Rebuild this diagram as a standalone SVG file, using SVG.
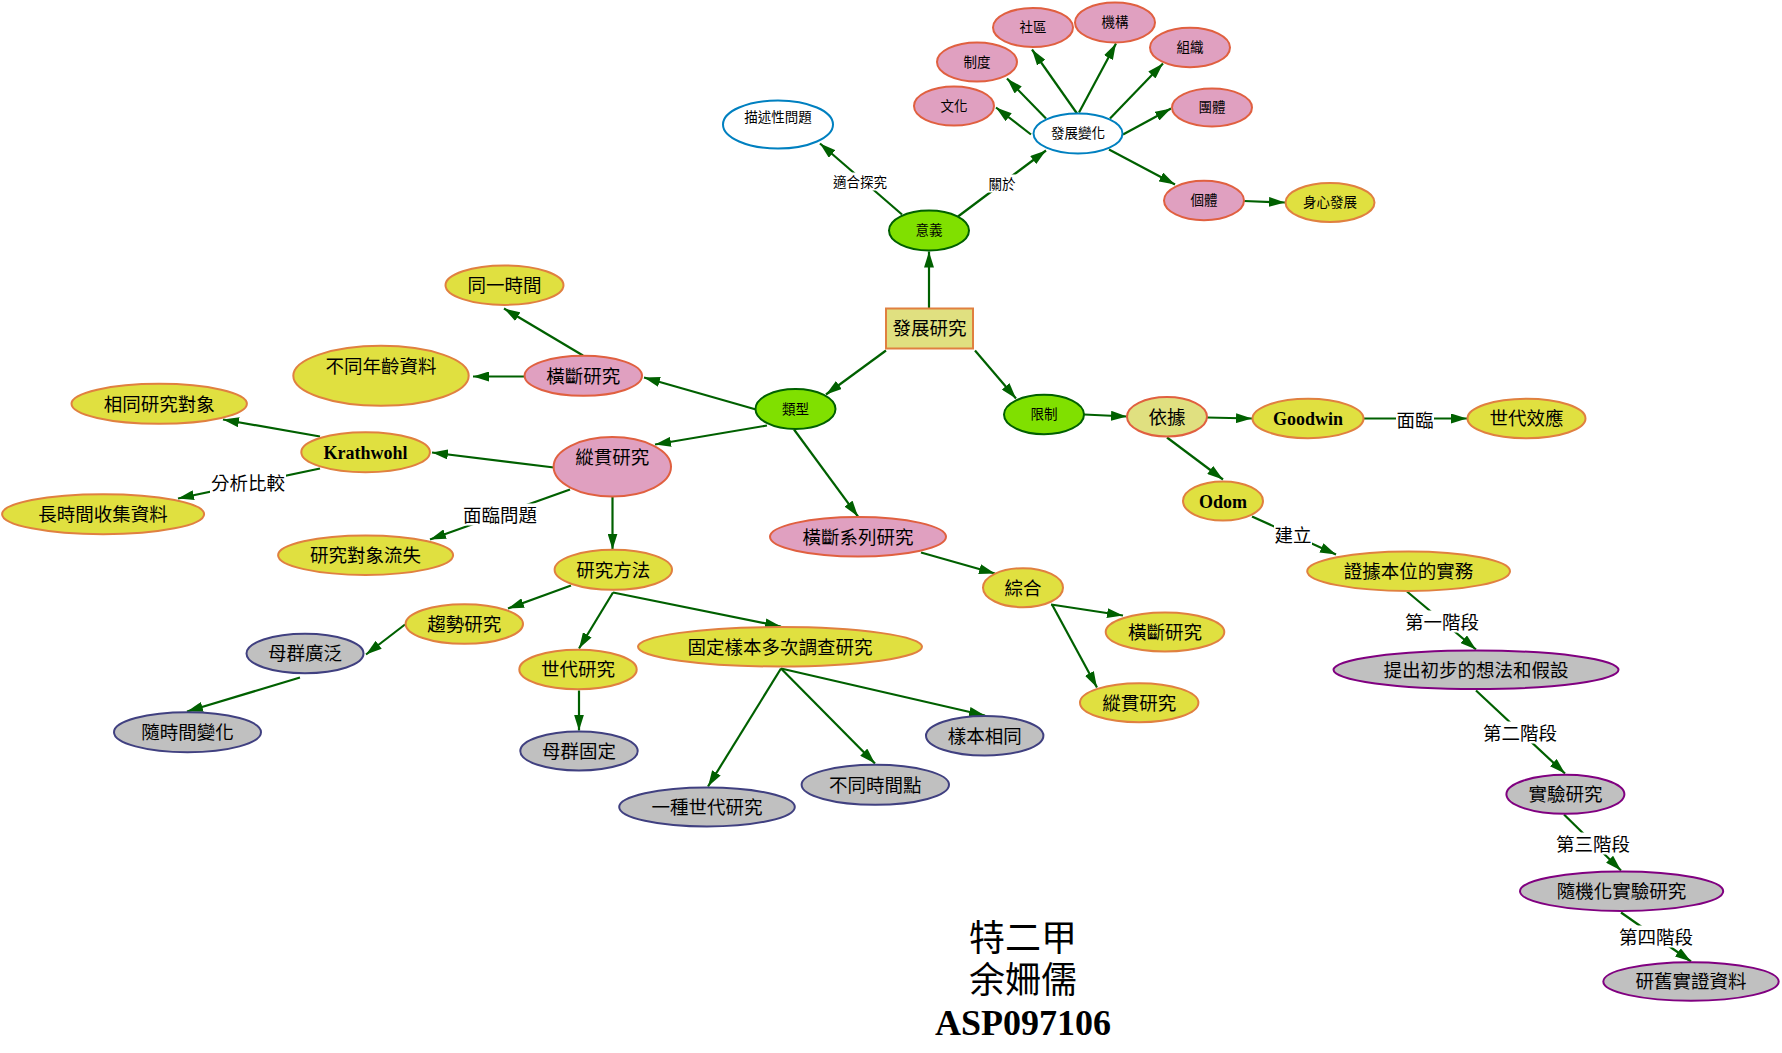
<svg xmlns="http://www.w3.org/2000/svg" width="1782" height="1053" viewBox="0 0 1782 1053">
<defs>
<marker id="ah" markerUnits="userSpaceOnUse" markerWidth="16" markerHeight="10" refX="16" refY="5" orient="auto"><path d="M0,0 L16,5 L0,10 z" fill="#006000"/></marker>
<style>
.e{stroke:#006000;stroke-width:2.2;fill:none;marker-end:url(#ah)}
.y{fill:#e0e040;stroke:#e08040;stroke-width:2}
.p{fill:#e0a0c0;stroke:#e06040;stroke-width:2}
.g{fill:#80e000;stroke:#006000;stroke-width:2}
.b{fill:#ffffff;stroke:#0080c0;stroke-width:2}
.k{fill:#e0e080;stroke:#e08040;stroke-width:2}
.kr{fill:#e0e080;stroke:#e06040;stroke-width:2}
.gn{fill:#c0c0c0;stroke:#404080;stroke-width:2}
.gp{fill:#c0c0c0;stroke:#800080;stroke-width:2}
text{font-family:"Liberation Sans","Noto Sans CJK TC",sans-serif;fill:#000;text-anchor:middle}
.t{font-size:18.5px}
.s{font-size:13.5px}
.bo{font-family:"Liberation Serif","Noto Sans CJK TC",serif;font-weight:bold;font-size:18px}
.lb{fill:#fff}
.ft{font-family:"Liberation Serif","Noto Sans CJK TC",serif;font-size:36px}
</style>
</defs>
<g transform="translate(0,1.5)">
<g id="connectors">
<line class="e" x1="929" y1="307" x2="929" y2="250"/>
<line class="e" x1="902" y1="213" x2="820" y2="142"/>
<line class="e" x1="958" y1="215" x2="1046" y2="149"/>
<line class="e" x1="1031" y1="133" x2="996" y2="106"/>
<line class="e" x1="1046" y1="117" x2="1007" y2="77"/>
<line class="e" x1="1077" y1="112" x2="1032" y2="48"/>
<line class="e" x1="1079" y1="111" x2="1116" y2="42"/>
<line class="e" x1="1110" y1="117" x2="1163" y2="62"/>
<line class="e" x1="1123" y1="133" x2="1171" y2="107"/>
<line class="e" x1="1109" y1="148" x2="1175" y2="183"/>
<line class="e" x1="1244" y1="199.5" x2="1285" y2="201"/>
<line class="e" x1="886" y1="349" x2="826" y2="393"/>
<line class="e" x1="975" y1="349" x2="1016" y2="397"/>
<line class="e" x1="756" y1="408" x2="644" y2="376"/>
<line class="e" x1="767" y1="424" x2="655" y2="443"/>
<line class="e" x1="794" y1="428" x2="858" y2="515"/>
<line class="e" x1="1084" y1="413" x2="1127" y2="415"/>
<line class="e" x1="1207" y1="416" x2="1252" y2="417"/>
<line class="e" x1="1167" y1="436" x2="1223" y2="478"/>
<line class="e" x1="1363" y1="417" x2="1467" y2="417"/>
<line class="e" x1="1252" y1="515" x2="1336" y2="553"/>
<line class="e" x1="1407" y1="590" x2="1476" y2="648"/>
<line class="e" x1="1476" y1="689" x2="1565" y2="772"/>
<line class="e" x1="1564" y1="813" x2="1621" y2="869"/>
<line class="e" x1="1621" y1="911" x2="1691" y2="960"/>
<line class="e" x1="921" y1="551" x2="995" y2="572"/>
<line class="e" x1="1051" y1="603" x2="1123" y2="614"/>
<line class="e" x1="1052" y1="603" x2="1097" y2="686"/>
<line class="e" x1="583" y1="354" x2="504" y2="307"/>
<line class="e" x1="525" y1="375" x2="473" y2="375"/>
<line class="e" x1="554" y1="466" x2="432" y2="451"/>
<line class="e" x1="320" y1="435" x2="223" y2="418"/>
<line class="e" x1="320" y1="467" x2="178" y2="497"/>
<line class="e" x1="570" y1="488" x2="430" y2="538"/>
<line class="e" x1="612.5" y1="495" x2="612.5" y2="548"/>
<line class="e" x1="571" y1="584" x2="508" y2="607"/>
<line class="e" x1="613" y1="591" x2="579" y2="647"/>
<line class="e" x1="613" y1="591" x2="781" y2="625"/>
<line class="e" x1="405" y1="623" x2="366" y2="653"/>
<line class="e" x1="300" y1="676" x2="187" y2="710"/>
<line class="e" x1="579" y1="689" x2="579" y2="729"/>
<line class="e" x1="781" y1="667" x2="708" y2="785"/>
<line class="e" x1="781" y1="667" x2="875" y2="762"/>
<line class="e" x1="781" y1="667" x2="985" y2="714"/>
<rect class="lb" x="832" y="171" width="56" height="18"/>
<text class="s" x="860" y="185">適合探究</text>
<rect class="lb" x="987" y="173" width="30" height="18"/>
<text class="s" x="1002" y="187">關於</text>
<rect class="lb" x="210" y="470" width="76" height="22"/>
<text class="t" x="248" y="488">分析比較</text>
<rect class="lb" x="462" y="502" width="76" height="22"/>
<text class="t" x="500" y="520">面臨問題</text>
<rect class="lb" x="1396" y="407" width="38" height="22"/>
<text class="t" x="1415" y="425">面臨</text>
<rect class="lb" x="1274" y="522" width="38" height="22"/>
<text class="t" x="1293" y="540">建立</text>
<rect class="lb" x="1404" y="609" width="76" height="22"/>
<text class="t" x="1442" y="627">第一階段</text>
<rect class="lb" x="1482" y="720" width="76" height="22"/>
<text class="t" x="1520" y="738">第二階段</text>
<rect class="lb" x="1555" y="831" width="76" height="22"/>
<text class="t" x="1593" y="849">第三階段</text>
<rect class="lb" x="1618" y="924" width="76" height="22"/>
<text class="t" x="1656" y="942">第四階段</text>
</g>
<g id="n_miaoshu"><ellipse class="b" cx="778" cy="123" rx="55" ry="24"/><text class="s" x="778" y="120">描述性問題</text></g>
<g id="n_wenhua"><ellipse class="p" cx="954" cy="104.5" rx="40" ry="19.5"/><text class="s" x="954" y="109">文化</text></g>
<g id="n_zhidu"><ellipse class="p" cx="977" cy="60.5" rx="40" ry="19.5"/><text class="s" x="977" y="65">制度</text></g>
<g id="n_shequ"><ellipse class="p" cx="1033" cy="26" rx="40" ry="19.5"/><text class="s" x="1033" y="30.5">社區</text></g>
<g id="n_jigou"><ellipse class="p" cx="1115" cy="21" rx="40" ry="20"/><text class="s" x="1115" y="25.5">機構</text></g>
<g id="n_zuzhi"><ellipse class="p" cx="1190" cy="46" rx="40" ry="19.7"/><text class="s" x="1190" y="50.5">組織</text></g>
<g id="n_tuanti"><ellipse class="p" cx="1212" cy="106" rx="40" ry="19"/><text class="s" x="1212" y="110.5">團體</text></g>
<g id="n_bianhua"><ellipse class="b" cx="1078" cy="132" rx="44.5" ry="20"/><text class="s" x="1078" y="136.5">發展變化</text></g>
<g id="n_geti"><ellipse class="p" cx="1204" cy="199" rx="40" ry="19.7"/><text class="s" x="1204" y="203.5">個體</text></g>
<g id="n_shenxin"><ellipse class="y" cx="1330" cy="201" rx="44.5" ry="19.5"/><text class="s" x="1330" y="205.5">身心發展</text></g>
<g id="n_yiyi"><ellipse class="g" cx="929" cy="229" rx="40" ry="20"/><text class="s" x="929" y="233.5">意義</text></g>
<g id="n_root"><rect class="k" x="886" y="307" width="87" height="40"/><text class="t" x="929.5" y="333.5">發展研究</text></g>
<g id="n_leixing"><ellipse class="g" cx="795.5" cy="407.5" rx="40" ry="20"/><text class="s" x="795.5" y="412">類型</text></g>
<g id="n_xianzhi"><ellipse class="g" cx="1044" cy="413" rx="40" ry="19.7"/><text class="s" x="1044" y="417.5">限制</text></g>
<g id="n_yiju"><ellipse class="kr" cx="1167" cy="415.3" rx="40" ry="19.7"/><text class="t" x="1167" y="422">依據</text></g>
<g id="n_goodwin"><ellipse class="y" cx="1308" cy="417" rx="55.5" ry="19.7"/><text class="bo" x="1308" y="423.5">Goodwin</text></g>
<g id="n_shidaixy"><ellipse class="y" cx="1526.5" cy="417" rx="59" ry="19.7"/><text class="t" x="1526.5" y="423.5">世代效應</text></g>
<g id="n_odom"><ellipse class="y" cx="1223" cy="499.5" rx="40" ry="19.5"/><text class="bo" x="1223" y="506">Odom</text></g>
<g id="n_zhengju"><ellipse class="y" cx="1408.6" cy="569.7" rx="101.4" ry="19.7"/><text class="t" x="1408.6" y="576.5">證據本位的實務</text></g>
<g id="n_tichu"><ellipse class="gp" cx="1476" cy="668.3" rx="142.5" ry="19.3"/><text class="t" x="1476" y="675">提出初步的想法和假設</text></g>
<g id="n_shiyan"><ellipse class="gp" cx="1565.4" cy="792.8" rx="59" ry="19.5"/><text class="t" x="1565.4" y="799.5">實驗研究</text></g>
<g id="n_suiji"><ellipse class="gp" cx="1621.6" cy="889.7" rx="101.6" ry="19.7"/><text class="t" x="1621.6" y="896.5">隨機化實驗研究</text></g>
<g id="n_yanjiu"><ellipse class="gp" cx="1691" cy="980" rx="87.7" ry="19.3"/><text class="t" x="1691" y="986.5">研舊實證資料</text></g>
<g id="n_hengduan_p"><ellipse class="p" cx="583.3" cy="374.3" rx="58.7" ry="20"/><text class="t" x="583.3" y="381">橫斷研究</text></g>
<g id="n_tongyi"><ellipse class="y" cx="504.5" cy="283.7" rx="59" ry="19.7"/><text class="t" x="504.5" y="290.5">同一時間</text></g>
<g id="n_butong"><ellipse class="y" cx="381" cy="374.3" rx="87.7" ry="30"/><text class="t" x="381" y="371.5">不同年齡資料</text></g>
<g id="n_zonggu_p"><ellipse class="p" cx="612.3" cy="465.3" rx="58.7" ry="29.7"/><text class="t" x="612.3" y="462.5">縱貫研究</text></g>
<g id="n_krath"><ellipse class="y" cx="365.6" cy="450.7" rx="64.3" ry="20"/><text class="bo" x="365.6" y="457">Krathwohl</text></g>
<g id="n_xiangtong"><ellipse class="y" cx="159.2" cy="402.3" rx="87.7" ry="20"/><text class="t" x="159.2" y="409">相同研究對象</text></g>
<g id="n_changshi"><ellipse class="y" cx="103.1" cy="512.7" rx="101" ry="20"/><text class="t" x="103.1" y="519.5">長時間收集資料</text></g>
<g id="n_liushi"><ellipse class="y" cx="365.6" cy="553.7" rx="87.5" ry="19.7"/><text class="t" x="365.6" y="560.5">研究對象流失</text></g>
<g id="n_fangfa"><ellipse class="y" cx="613.3" cy="568.3" rx="58.7" ry="20"/><text class="t" x="613.3" y="575">研究方法</text></g>
<g id="n_qushi"><ellipse class="y" cx="464.3" cy="622.5" rx="58.7" ry="19.8"/><text class="t" x="464.3" y="629.3">趨勢研究</text></g>
<g id="n_muqun_g"><ellipse class="gn" cx="305" cy="652" rx="58.5" ry="19.7"/><text class="t" x="305" y="658.8">母群廣泛</text></g>
<g id="n_suishi"><ellipse class="gn" cx="187.5" cy="730.7" rx="73.5" ry="20"/><text class="t" x="187.5" y="737.5">隨時間變化</text></g>
<g id="n_shidai"><ellipse class="y" cx="578" cy="668" rx="58.7" ry="19.7"/><text class="t" x="578" y="674.8">世代研究</text></g>
<g id="n_guding"><ellipse class="y" cx="780" cy="645.3" rx="142" ry="19.7"/><text class="t" x="780" y="652">固定樣本多次調查研究</text></g>
<g id="n_muqun_f"><ellipse class="gn" cx="579" cy="749.5" rx="58.7" ry="19.5"/><text class="t" x="579" y="756.3">母群固定</text></g>
<g id="n_yizhong"><ellipse class="gn" cx="707" cy="805.5" rx="87.8" ry="19.5"/><text class="t" x="707" y="812.3">一種世代研究</text></g>
<g id="n_butongsj"><ellipse class="gn" cx="875.3" cy="783.3" rx="73.7" ry="20"/><text class="t" x="875.3" y="790">不同時間點</text></g>
<g id="n_yangben"><ellipse class="gn" cx="984.7" cy="734.2" rx="58.7" ry="19.8"/><text class="t" x="984.7" y="741">樣本相同</text></g>
<g id="n_hdxl"><ellipse class="p" cx="858" cy="535.3" rx="88" ry="19.7"/><text class="t" x="858" y="542">橫斷系列研究</text></g>
<g id="n_zonghe"><ellipse class="y" cx="1023" cy="586.2" rx="40" ry="19.5"/><text class="t" x="1023" y="593">綜合</text></g>
<g id="n_hd_y"><ellipse class="y" cx="1165" cy="630.5" rx="59.3" ry="19.5"/><text class="t" x="1165" y="637.3">橫斷研究</text></g>
<g id="n_zg_y"><ellipse class="y" cx="1139.2" cy="701.2" rx="59.2" ry="19.5"/><text class="t" x="1139.2" y="708">縱貫研究</text></g>
<g id="footer">
<text class="ft" x="1023" y="949">特二甲</text>
<text class="ft" x="1023" y="991">余姍儒</text>
<text class="ft" x="1023" y="1033" font-weight="bold">ASP097106</text>
</g>
</g>
</svg>
